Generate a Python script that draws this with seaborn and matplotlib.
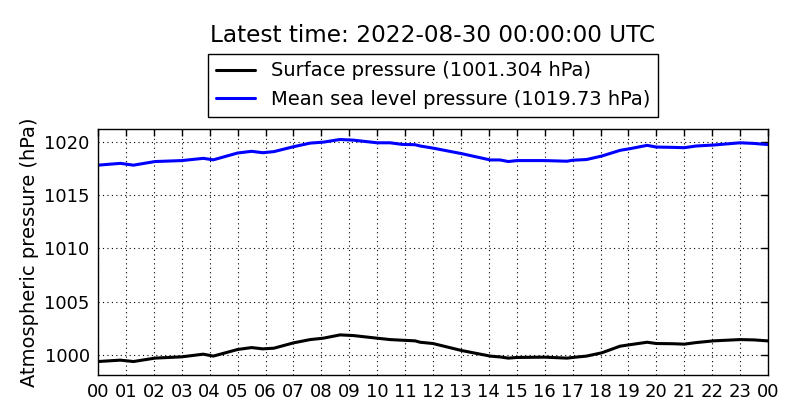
import pandas as pd
import matplotlib
matplotlib.use("Agg")
import matplotlib.pyplot as plt
import seaborn as sns

# hours since 00 UTC
hours = [0.0, 0.8, 1.27, 2.04, 3.0, 3.77, 4.13, 5.0, 5.5, 5.9, 6.3, 7.0, 7.6, 8.07,
         8.67, 9.14, 10.0, 10.46, 10.9, 11.36, 11.54, 12.0, 13.03, 14.05, 14.4, 14.7,
         15.0, 16.0, 16.8, 17.0, 17.5, 18.05, 18.7, 19.06, 19.67, 20.0, 20.6, 21.0,
         21.43, 22.05, 23.0, 23.5, 24.0]

msl = [1017.8, 1017.97, 1017.8, 1018.14, 1018.23, 1018.44, 1018.3, 1018.94, 1019.1,
       1018.97, 1019.07, 1019.53, 1019.87, 1019.96, 1020.21, 1020.15, 1019.9, 1019.9,
       1019.75, 1019.72, 1019.6, 1019.4, 1018.88, 1018.29, 1018.29, 1018.14, 1018.23,
       1018.23, 1018.17, 1018.26, 1018.33, 1018.66, 1019.19, 1019.35, 1019.66, 1019.5,
       1019.47, 1019.44, 1019.6, 1019.69, 1019.9, 1019.84, 1019.73]

surface = [999.37, 999.5, 999.37, 999.69, 999.81, 1000.06, 999.88, 1000.5, 1000.68,
           1000.56, 1000.62, 1001.12, 1001.43, 1001.56, 1001.87, 1001.81, 1001.56, 1001.43,
           1001.37, 1001.31, 1001.18, 1001.06, 1000.4, 999.88, 999.8, 999.69, 999.75,
           999.78, 999.69, 999.75, 999.88, 1000.19, 1000.81, 1000.95, 1001.18, 1001.06,
           1001.04, 1001.0, 1001.15, 1001.31, 1001.43, 1001.4, 1001.304]

tick_labels = ["%02d" % h for h in range(24)] + ["00"]
labels = ["Surface pressure (1001.304 hPa)", "Mean sea level pressure (1019.73 hPa)"]
title = "Latest time: 2022-08-30 00:00:00 UTC"


def main() -> None:
    sns.set_style("white")
    plt.rcParams["font.family"] = ["DejaVu Sans"]
    plt.rcParams.update({"text.color": "black", "axes.labelcolor": "black",
                         "xtick.color": "black", "ytick.color": "black"})

    df = pd.concat([
        pd.DataFrame({"hour": hours, "pressure": surface, "series": labels[0]}),
        pd.DataFrame({"hour": hours, "pressure": msl, "series": labels[1]}),
    ])

    fig = plt.figure(figsize=(8, 4.2), dpi=100)
    ax = fig.add_axes([0.1225, 0.107, 0.8375, 0.586])

    sns.lineplot(data=df, x="hour", y="pressure", hue="series",
                 palette=["black", "blue"], linewidth=2.2, ax=ax, legend=True)

    ax.set_xlim(0, 24)
    ax.set_ylim(998.1, 1021.2)
    ax.set_xticks(range(25))
    ax.set_xticklabels(tick_labels)
    ax.set_yticks([1000, 1005, 1010, 1015, 1020])
    ax.tick_params(direction="in", top=True, right=True, labelsize=13,
                   length=5, width=1, color="black", pad=6)
    ax.grid(True, linestyle=(0, (1, 3)), color="black", linewidth=0.8)
    for sp in ax.spines.values():
        sp.set_color("black")
        sp.set_linewidth(1)

    ax.set_xlabel("")
    ax.set_ylabel("Atmospheric pressure (hPa)", fontsize=14, labelpad=4)

    handles, _ = ax.get_legend_handles_labels()
    ax.legend(handles, labels, loc="lower center", bbox_to_anchor=(0.5, 1.049),
              borderaxespad=0, fontsize=14, frameon=True, fancybox=False,
              edgecolor="black", framealpha=1, handlelength=2.0)
    ax.get_legend().get_frame().set_linewidth(1)

    fig.text(0.541, 1 - 35 / 420, title, ha="center", va="center", fontsize=16.7)

    fig.savefig("out.png", dpi=100)


if __name__ == "__main__":
    main()
